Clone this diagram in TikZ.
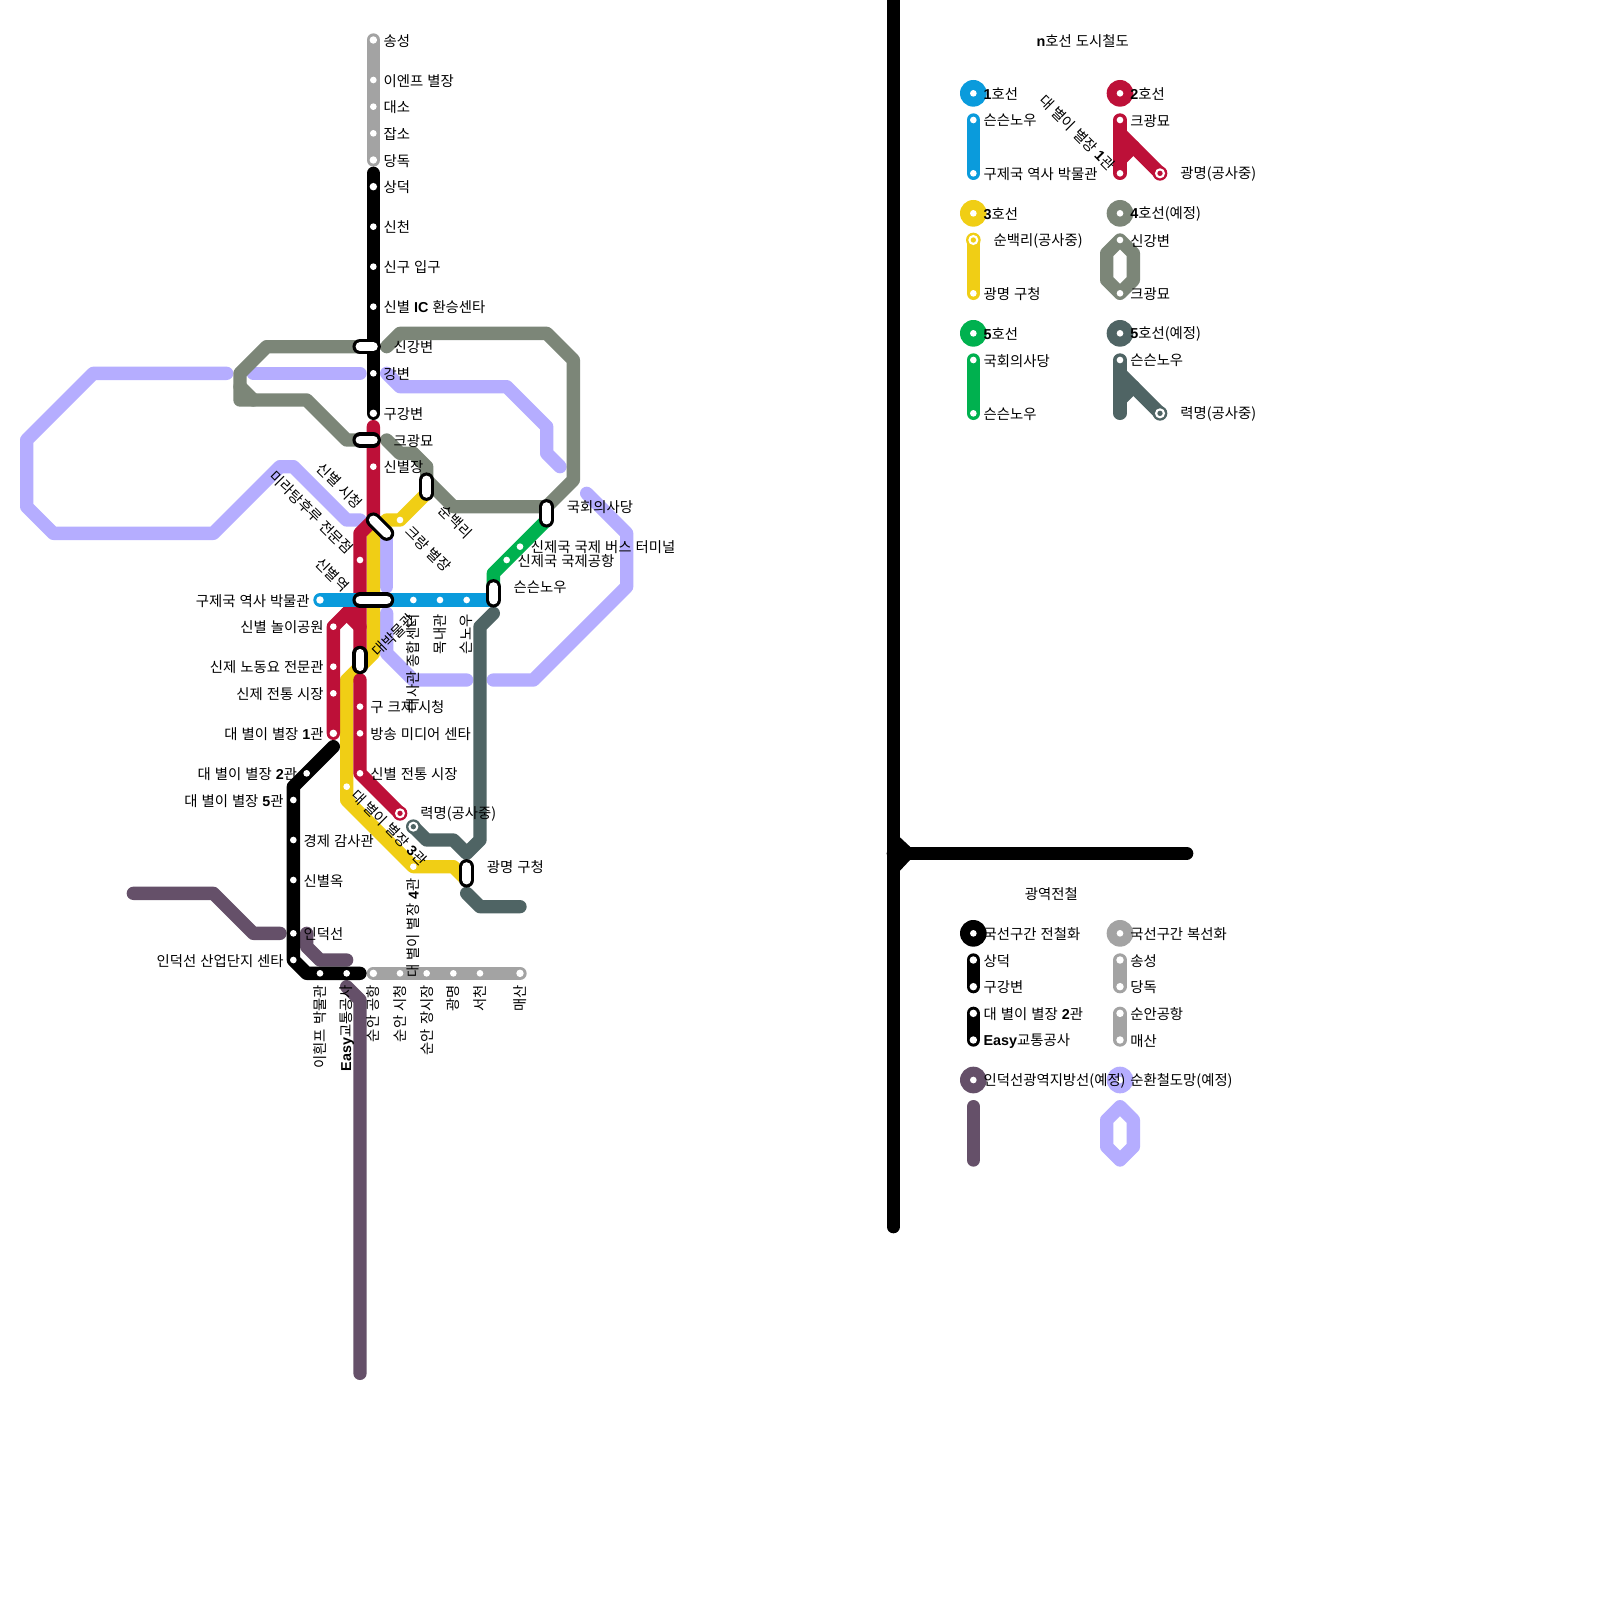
\documentclass[tikz,border=0pt]{standalone}
\usepackage{fontspec}
\setmainfont{Noto Sans CJK KR}[WordSpace=1.25]
\newfontfamily\latb{Liberation Sans}
\newcommand{\B}[1]{{\latb\bfseries #1}}
\definecolor{lblue}{HTML}{0A9BDC}
\definecolor{lred}{HTML}{BD1038}
\definecolor{lyel}{HTML}{F0CE15}
\definecolor{lgrn}{HTML}{00B14F}
\definecolor{lgry}{HTML}{7C8678}
\definecolor{ldrk}{HTML}{4F6464}
\definecolor{lsil}{HTML}{A3A3A3}
\definecolor{llav}{HTML}{B5ADFF}
\definecolor{lind}{HTML}{655069}
\tikzset{
 route/.style={line width=0.3cm,line cap=round,line join=round,draw=#1},
 cap1/.style={line width=0.34cm,line cap=round,draw=black},
 cap2/.style={line width=0.2cm,line cap=round,draw=white},
 lab/.style={inner sep=0pt,font=\fontsize{9.2}{11}\selectfont,text=black,yshift=-0.5pt},
 le/.style={lab,anchor=west},
 ri/.style={lab,anchor=east},
 dn/.style={lab,anchor=east,rotate=90},
 dg/.style={lab,anchor=east,rotate=-45},
 dw/.style={lab,anchor=west,rotate=-45},
}
\newcommand{\St}[2]{\fill[white] (#1,#2) circle (0.25);}
\newcommand{\Tm}[3]{\fill[white] (#1,#2) circle (0.28);}
\newcommand{\Rg}[3]{\fill[#3] (#1,#2) circle (0.55);\fill[white] (#1,#2) circle (0.38);\fill[#3] (#1,#2) circle (0.2);}
\newcommand{\Cp}[4]{\draw[cap1] (#1,#2) -- (#3,#4);\draw[cap2] (#1,#2) -- (#3,#4);}
\newcommand{\BigC}[3]{\fill[#3] (#1,#2) circle (1);\fill[white] (#1,#2) circle (0.25);}
\begin{document}
\begin{tikzpicture}[x=0.3cm,y=-0.3cm]
\useasboundingbox[fill=white] (0,0) rectangle (120,120);
% lavender
\draw[route=llav] (17,28) -- (7,28) -- (2,33) -- (2,38) -- (4,40) -- (16,40) -- (21,35) -- (22,35) -- (26,39) -- (27,39);
\draw[route=llav] (19,28) -- (27,28);
\draw[route=llav] (29,28) -- (30,29) -- (38,29) -- (41,32) -- (41,34) -- (42,35);
\draw[route=llav] (29,40) -- (29,44);
\draw[route=llav] (29,46) -- (29,49) -- (31,51) -- (35,51);
\draw[route=llav] (37,51) -- (40,51) -- (47,44) -- (47,40) -- (44,37);
% grey-green
\draw[route=lgry] (27,26) -- (20,26) -- (18,28) -- (18,30) -- (23,30) -- (26,33) -- (27,33);
\draw[route=lgry] (18,29) -- (19,30);
\draw[route=lgry] (29,33) -- (30,34) -- (31,34) -- (32,35) -- (32,36) -- (34,38) -- (41,38) -- (43,36) -- (43,27) -- (41,25) -- (30,25) -- (29,26);
% indeok
\draw[route=lind] (10,67) -- (16,67) -- (19,70) -- (21,70);
\draw[route=lind] (23,70) -- (23,71) -- (24,72) -- (26,72);
\draw[route=lind] (26,74) -- (27,75) -- (27,103);
% yellow
\draw[route=lyel] (32,37) -- (30,39) -- (29,39) -- (28,40) -- (28,49) -- (26,51) -- (26,60) -- (31,65) -- (34,65) -- (35,66);
% red
\draw[route=lred] (28,32) -- (28,39) -- (27,40) -- (27,49);
\draw[route=lred] (27,45) -- (25,47) -- (25,55);
\draw[route=lred] (26,46) -- (27,47);
\draw[route=lred] (27,51) -- (27,58) -- (30,61);
% blue
\draw[route=lblue] (24,45) -- (37,45);
% green
\draw[route=lgrn] (41,39) -- (37,43) -- (37,44);
% dark
\draw[route=ldrk] (31,62) -- (32,63) -- (34,63) -- (35,64) -- (36,63) -- (36,47) -- (37,46);
\draw[route=ldrk] (35,67) -- (36,68) -- (39,68);
% silver
\draw[route=lsil] (28,3) -- (28,12);
\draw[route=lsil] (28,73) -- (39,73);
% black
\draw[route=black] (28,13) -- (28,31);
\draw[route=black] (25,56) -- (22,59) -- (22,72) -- (23,73) -- (27,73);
% huge black
\draw[route=black] (67,-1) -- (67,92);
\draw[route=black] (67,64) -- (89,64);
\fill[black] (67,62.8) -- (67.5,62.8) -- (68.25,63.5) -- (68.25,64.5) -- (67.5,65.3) -- (67,65.3) -- cycle;
% stations
\foreach \y in {6,8,10} {\St{28}{\y}}
\Tm{28}{3}{lsil}\Tm{28}{12}{lsil}
\foreach \y in {17,20,23,28} {\St{28}{\y}}
\Tm{28}{14}{black}\Tm{28}{31}{black}
\St{28}{35}\St{27}{42}\St{30}{39}
\St{25}{47}\St{25}{50}\St{25}{52}\Tm{25}{55}{lred}
\St{27}{53}\St{27}{55}\St{27}{58}\Rg{30}{61}{lred}
\St{26}{59}\St{31}{65}
\Tm{24}{45}{lblue}\St{31}{45}\St{33}{45}\St{35}{45}
\St{39}{41}\St{38}{42}
\Rg{31}{62}{ldrk}
\St{23}{58}\foreach \y in {60,63,66,70,72} {\St{22}{\y}}
\St{24}{73}\St{26}{73}
\Tm{28}{73}{lsil}\foreach \x in {30,32,34,36} {\St{\x}{73}}\Tm{39}{73}{lsil}
% capsules
\Cp{27}{26}{28}{26}
\Cp{27}{33}{28}{33}
\Cp{28}{39}{29}{40}
\Cp{27}{45}{29}{45}
\Cp{27}{49}{27}{50}
\Cp{32}{36}{32}{37}
\Cp{41}{38}{41}{39}
\Cp{37}{44}{37}{45}
\Cp{35}{65}{35}{66}
% labels
\node[le] (a1) at (28.75,3) {송성};
\node[le] (a2) at (28.75,6) {이엔프 별장};
\node[le] (a3) at (28.75,8) {대소};
\node[le] (a4) at (28.75,10) {잡소};
\node[le] (a5) at (28.75,12) {당독};
\node[le] (a6) at (28.75,14) {상덕};
\node[le] (a7) at (28.75,17) {신천};
\node[le] (a8) at (28.75,20) {신구 입구};
\node[le] (a9) at (28.75,23) {신별 \B{IC} 환승센타};
\node[le] (a10) at (29.5,26) {신강변};
\node[le] (a11) at (28.75,28) {강변};
\node[le] (a12) at (28.75,31) {구강변};
\node[le] (a13) at (29.5,33) {크광묘};
\node[le] (a14) at (28.75,35) {신별장};
\node[dg] (a15) at (27,37.9) {신별 시청};
\node[dg] (a16) at (26.3,41.3) {미라탕후루 전문점};
\node[dg] (a17) at (26.0,44.1) {신별역};
\node[dw] (a18) at (30.6,39.6) {크랑 별장};
\node[dw] (a19) at (33.1,38) {순백리};
\node[le] (a20) at (42.5,38) {국회의사당};
\node[le] (a21) at (39.8,41) {신제국 국제 버스 터미널};
\node[le] (a22) at (38.8,42) {신제국 국제공항};
\node[le] (a23) at (38.5,44) {슨슨노우};
\node[ri] (a24) at (23.25,45) {구제국 역사 박물관};
\node[dn] (a25) at (31,46) {대사관 종합센터};
\node[dn] (a26) at (33,46) {목내관};
\node[dn] (a27) at (35,46) {슨노우};
\node[ri] (a28) at (24.3,47) {신별 놀이공원};
\node[ri] (a29) at (24.3,50) {신제 노동요 전문관};
\node[ri] (a30) at (24.3,52) {신제 전통 시장};
\node[ri] (a31) at (24.3,55) {대 별이 별장 \B{1}관};
\node[lab,anchor=west,rotate=45] (a32) at (28.1,49) {대박물관};
\node[le] (a33) at (27.75,53) {구 크제 시청};
\node[le] (a34) at (27.75,55) {방송 미디어 센타};
\node[le] (a35) at (27.75,58) {신별 전통 시장};
\node[le] (a36) at (31.5,61) {력명(공사중)};
\node[dw] (a37) at (26.55,59.35) {대 별이 별장 \B{3}관};
\node[le] (a38) at (36.5,65) {광명 구청};
\node[dn] (a39) at (31,65.8) {대 별이 별장 \B{4}관};
\node[ri] (a40) at (22.3,58) {대 별이 별장 \B{2}관};
\node[ri] (a41) at (21.3,60) {대 별이 별장 \B{5}관};
\node[le] (a42) at (22.75,63) {경제 감사관};
\node[le] (a43) at (22.75,66) {신별옥};
\node[le] (a44) at (22.75,70) {인덕선};
\node[ri] (a45) at (21.3,72) {인덕선 산업단지 센타};
\node[dn] (a46) at (24,73.8) {이흰프 박물관};
\node[dn] (a47) at (26,73.8) {\B{Easy}교통공사};
\node[dn] (a48) at (28,73.8) {순안 공항};
\node[dn] (a49) at (30,73.8) {순안 시청};
\node[dn] (a50) at (32,73.8) {순안 장시장};
\node[dn] (a51) at (34,73.8) {광명};
\node[dn] (a52) at (36,73.8) {서천};
\node[dn] (a53) at (39,73.8) {매산};
% legend
\node[lab] (t1) at (81.2,3) {\B{n}호선 도시철도};
\node[lab] (t2) at (78.85,67) {광역전철};
\BigC{73}{7}{lblue}\BigC{84}{7}{lred}\BigC{73}{16}{lyel}\BigC{84}{16}{lgry}
\BigC{73}{25}{lgrn}\BigC{84}{25}{ldrk}\BigC{73}{70}{black}\BigC{84}{70}{lsil}
\BigC{73}{81}{lind}\BigC{84}{81}{llav}
\node[le] (b1) at (73.75,7) {\B{1}호선};
\node[le] (b2) at (84.75,7) {\B{2}호선};
\node[le] (b3) at (73.75,16) {\B{3}호선};
\node[le] (b4) at (84.75,16) {\B{4}호선(예정)};
\node[le] (b5) at (73.75,25) {\B{5}호선};
\node[le] (b6) at (84.75,25) {\B{5}호선(예정)};
\node[le] (b7) at (73.75,70) {국선구간 전철화};
\node[le] (b8) at (84.75,70) {국선구간 복선화};
\node[le] (b9) at (73.75,81) {인덕선광역지방선(예정)};
\node[le] (b10) at (84.75,81) {순환철도망(예정)};
\draw[route=lblue] (73,9) -- (73,13);\St{73}{9}\St{73}{13}
\node[le] (c1) at (73.75,9) {슨슨노우};
\node[le] (c2) at (73.75,13) {구제국 역사 박물관};
\draw[route=lred] (84,9) -- (84,13);\draw[route=lred] (84,10) -- (87,13);\draw[route=lred] (85,11) -- (84,12);
\St{84}{9}\St{84}{13}\Rg{87}{13}{lred}
\node[le] (c3) at (84.75,9) {크광묘};
\node[le] (c4) at (88.5,13) {광명(공사중)};
\node[dg] (c5) at (83.45,12.55) {대 별이 별장 \B{1}관};
\draw[route=lyel] (73,18) -- (73,22);\Rg{73}{18}{lyel}\St{73}{22}
\node[le] (c6) at (74.5,18) {순백리(공사중)};
\node[le] (c7) at (73.75,22) {광명 구청};
\draw[route=lgry] (84,18) -- (85,19) -- (85,21) -- (84,22) -- (83,21) -- (83,19) -- cycle;\St{84}{18}\St{84}{22}
\node[le] (c8) at (84.75,18) {신강변};
\node[le] (c9) at (84.75,22) {크광묘};
\draw[route=lgrn] (73,27) -- (73,31);\St{73}{27}\St{73}{31}
\node[le] (c10) at (73.75,27) {국회의사당};
\node[le] (c11) at (73.75,31) {슨슨노우};
\draw[route=ldrk] (84,27) -- (84,31);\draw[route=ldrk] (84,28) -- (87,31);\draw[route=ldrk] (85,29) -- (84,30);
\St{84}{27}\Rg{87}{31}{ldrk}
\node[le] (c12) at (84.75,27) {슨슨노우};
\node[le] (c13) at (88.5,31) {력명(공사중)};
\draw[route=black] (73,72) -- (73,74);\Tm{73}{72}{black}\Tm{73}{74}{black}
\node[le] (d1) at (73.75,72) {상덕};
\node[le] (d2) at (73.75,74) {구강변};
\draw[route=black] (73,76) -- (73,78);\Tm{73}{76}{black}\Tm{73}{78}{black}
\node[le] (d3) at (73.75,76) {대 별이 별장 \B{2}관};
\node[le] (d4) at (73.75,78) {\B{Easy}교통공사};
\draw[route=lsil] (84,72) -- (84,74);\Tm{84}{72}{lsil}\Tm{84}{74}{lsil}
\node[le] (d5) at (84.75,72) {송성};
\node[le] (d6) at (84.75,74) {당독};
\draw[route=lsil] (84,76) -- (84,78);\Tm{84}{76}{lsil}\Tm{84}{78}{lsil}
\node[le] (d7) at (84.75,76) {순안공항};
\node[le] (d8) at (84.75,78) {매산};
\draw[route=lind] (73,83) -- (73,87);
\draw[route=llav] (84,83) -- (85,84) -- (85,86) -- (84,87) -- (83,86) -- (83,84) -- cycle;
\end{tikzpicture}
\end{document}
